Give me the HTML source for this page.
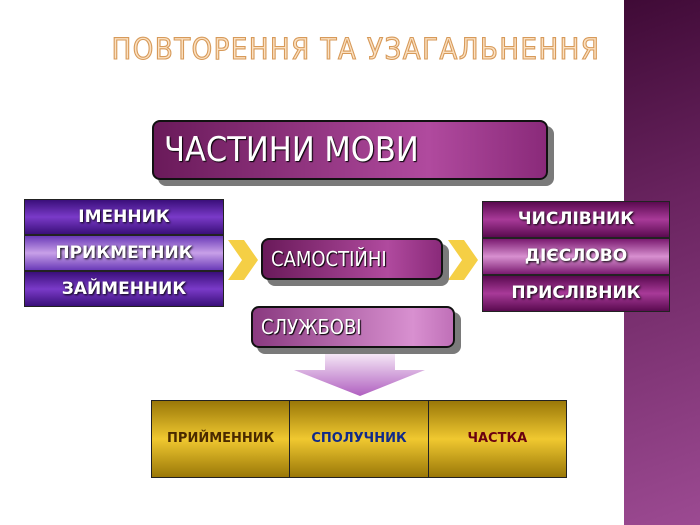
<!DOCTYPE html>
<html><head><meta charset="utf-8"><style>
*{margin:0;padding:0;box-sizing:border-box}
body{width:700px;height:525px;background:#fff;position:relative;overflow:hidden;font-family:"Liberation Sans","DejaVu Sans",sans-serif}
.abs{position:absolute}
.bar{left:624px;top:0;width:76px;height:525px;background:linear-gradient(160deg,#3f0a36 0%,#6a2460 40%,#9c4a92 100%)}
.title{left:100px;top:32px;width:512px;text-align:center;font-size:29px;letter-spacing:1.5px;color:#fbe0c0;-webkit-text-stroke:1.1px #d79a5a;font-family:"DejaVu Sans Condensed","Liberation Sans Narrow",sans-serif;white-space:nowrap}
.btn{border:2px solid #111;border-radius:8px;box-shadow:6px 6px 0 #7a7a7a;color:#fff;text-shadow:1px 1px 1px #000;font-family:"DejaVu Sans Condensed","Liberation Sans Narrow",sans-serif}
.stack div{height:36px;border:1px solid #222;color:#fff;font-weight:bold;text-align:center;font-size:17px;line-height:34px;text-shadow:1px 1px 2px #000;font-family:"DejaVu Sans",sans-serif}
.l div{background:linear-gradient(#3a0f7a,#7a3ac8 50%,#3a0f7a)}
.l div.m{background:linear-gradient(#6a3ab8,#c8a0e8 50%,#6a3ab8)}
.r div{background:linear-gradient(#5a0a50,#a83a98 50%,#5a0a50)}
.r div.m{background:linear-gradient(#7a1a70,#d890d0 50%,#7a1a70)}
.gold{left:151px;top:400px;width:416px;height:78px;border:1px solid #222;display:flex;background:linear-gradient(#9a7808,#f0c830 50%,#9a7808)}
.gold div{flex:1;border-right:1px solid #222;text-align:center;line-height:76px;font-weight:bold;font-size:13px;font-family:"DejaVu Sans",sans-serif}
.gold div:last-child{border-right:none}
</style></head><body>
<div class="abs bar"></div>
<div class="abs title">ПОВТОРЕННЯ ТА УЗАГАЛЬНЕННЯ</div>
<div class="abs btn" style="left:152px;top:120px;width:396px;height:60px;background:linear-gradient(90deg,#6a1a5a,#b04a9e 70%,#8a2a7a);font-size:34px;line-height:56px;padding-left:10px">ЧАСТИНИ МОВИ</div>
<div class="abs stack l" style="left:24px;top:199px;width:200px"><div>ІМЕННИК</div><div class="m">ПРИКМЕТНИК</div><div>ЗАЙМЕННИК</div></div>
<div class="abs stack r" style="left:482px;top:201px;width:188px"><div style="height:37px">ЧИСЛІВНИК</div><div class="m" style="height:37px">ДІЄСЛОВО</div><div style="height:37px">ПРИСЛІВНИК</div></div>
<svg class="abs" style="left:0;top:0" width="700" height="525">
<polygon points="228,240 244,240 258,260 244,280 228,280 242,260" fill="#f5cf45"/>
<polygon points="448,240 464,240 478,260 464,280 448,280 462,260" fill="#f5cf45"/>
<defs><linearGradient id="ag" x1="0" y1="0" x2="0" y2="1"><stop offset="0" stop-color="#fbf3fb"/><stop offset="1" stop-color="#b060c0"/></linearGradient></defs>
<polygon points="325,350 395,350 395,370 425,370 360,396 294,370 325,370" fill="url(#ag)"/>
</svg>
<div class="abs btn" style="left:261px;top:238px;width:182px;height:42px;background:linear-gradient(90deg,#6a1a5a,#b04a9e 70%,#8a2a7a);font-size:20px;line-height:38px;padding-left:8px">САМОСТІЙНІ</div>
<div class="abs btn" style="left:251px;top:306px;width:204px;height:42px;background:linear-gradient(90deg,#8a3a80,#d890d0 80%,#c070b8);font-size:20px;line-height:38px;padding-left:8px">СЛУЖБОВІ</div>
<div class="abs gold"><div style="color:#4a2a00">ПРИЙМЕННИК</div><div style="color:#102a8a">СПОЛУЧНИК</div><div style="color:#6a0010">ЧАСТКА</div></div>
</body></html>
